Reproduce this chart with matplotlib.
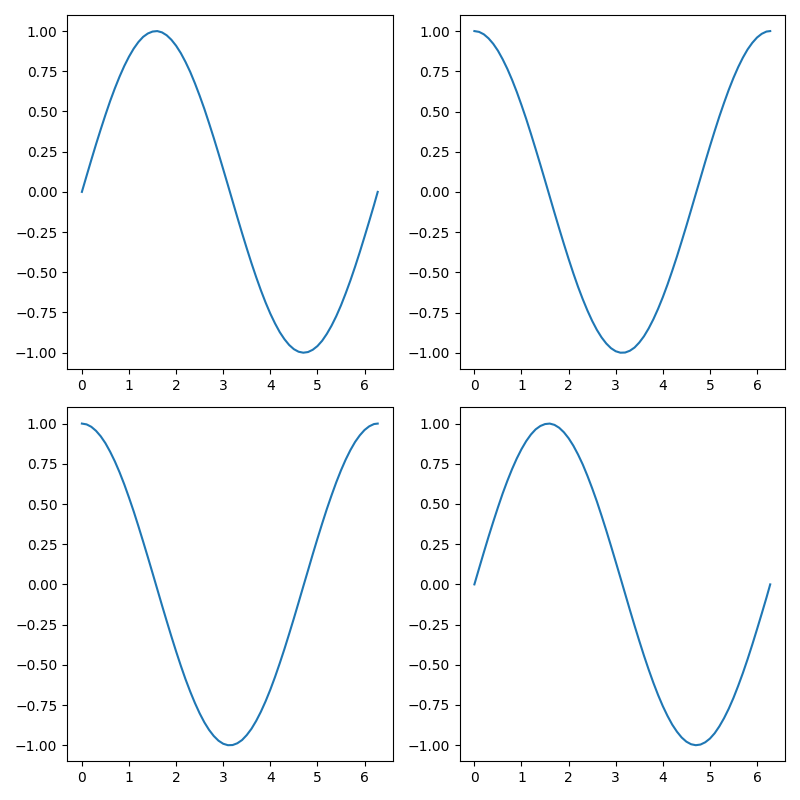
import matplotlib
matplotlib.use("Agg")
import matplotlib.pyplot as plt

x_vals = [0.0, 0.1, 0.2, 0.3, 0.4, 0.5, 0.6, 0.7, 0.8, 0.9,
          1.0, 1.1, 1.2, 1.3, 1.4, 1.5, 1.6, 1.7, 1.8, 1.9,
          2.0, 2.1, 2.2, 2.3, 2.4, 2.5, 2.6, 2.7, 2.8, 2.9,
          3.0, 3.1, 3.2, 3.3, 3.4, 3.5, 3.6, 3.7, 3.8, 3.9,
          4.0, 4.1, 4.2, 4.3, 4.4, 4.5, 4.6, 4.7, 4.8, 4.9,
          5.0, 5.1, 5.2, 5.3, 5.4, 5.5, 5.6, 5.7, 5.8, 5.9,
          6.0, 6.1, 6.2, 6.28]

wave_a = [0.000, 0.100, 0.199, 0.296, 0.389, 0.479, 0.565, 0.644, 0.717, 0.783,
          0.841, 0.891, 0.932, 0.964, 0.985, 0.997, 1.000, 0.992, 0.974, 0.946,
          0.909, 0.863, 0.808, 0.746, 0.675, 0.598, 0.516, 0.427, 0.335, 0.239,
          0.141, 0.042, -0.058, -0.158, -0.256, -0.351, -0.443, -0.530, -0.612, -0.688,
          -0.757, -0.818, -0.872, -0.916, -0.952, -0.978, -0.994, -1.000, -0.996, -0.982,
          -0.959, -0.926, -0.883, -0.832, -0.773, -0.706, -0.631, -0.551, -0.465, -0.374,
          -0.279, -0.182, -0.083, 0.000]

wave_b = [1.000, 0.995, 0.980, 0.955, 0.921, 0.878, 0.825, 0.765, 0.697, 0.622,
          0.540, 0.454, 0.362, 0.267, 0.170, 0.071, -0.029, -0.129, -0.227, -0.323,
          -0.416, -0.505, -0.589, -0.666, -0.737, -0.801, -0.857, -0.904, -0.942, -0.971,
          -0.990, -0.999, -0.998, -0.987, -0.967, -0.936, -0.897, -0.848, -0.791, -0.726,
          -0.654, -0.575, -0.490, -0.401, -0.307, -0.211, -0.112, -0.012, 0.087, 0.187,
          0.284, 0.378, 0.469, 0.554, 0.635, 0.709, 0.776, 0.835, 0.886, 0.927,
          0.960, 0.983, 0.997, 1.000]

panels = [wave_a, wave_b, wave_b, wave_a]

fig, axes = plt.subplots(2, 2, figsize=(8, 8), dpi=100)
for ax, series in zip(axes.flat, panels):
    ax.plot(x_vals, series, color="#1f77b4")
fig.tight_layout()
fig.savefig("out.png")
